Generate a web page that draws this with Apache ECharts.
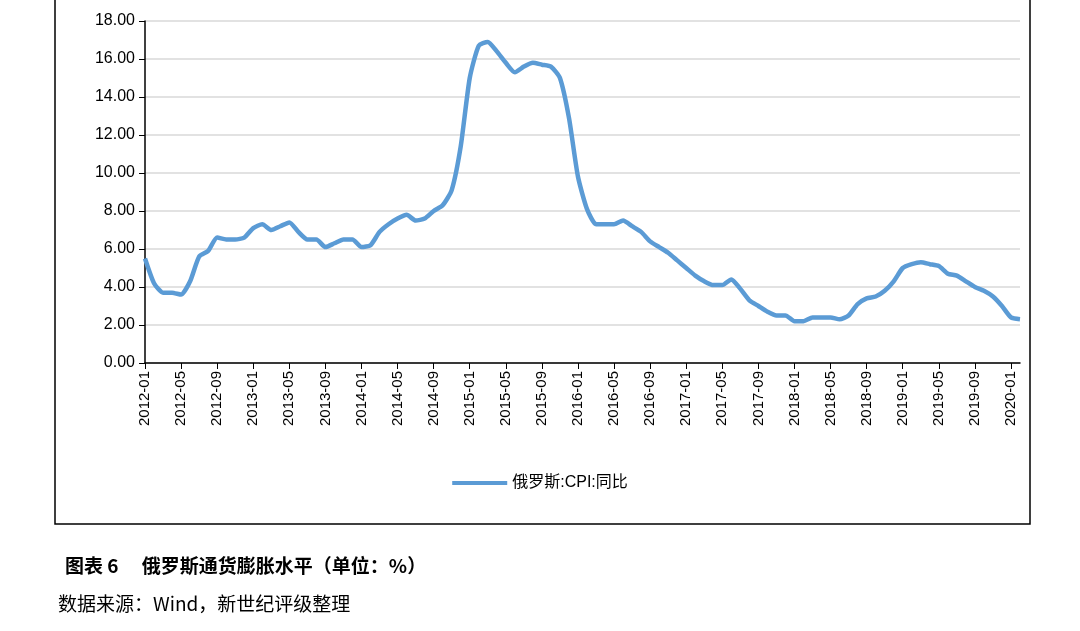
<!DOCTYPE html>
<html><head><meta charset="utf-8">
<script src="https://cdn.jsdelivr.net/npm/echarts@6/dist/echarts.min.js"></script>
<style>html,body{margin:0;padding:0;background:#fff}#c{width:1080px;height:631px}</style>
</head><body><div id="c"></div>
<script>
const seriesName = '俄罗斯:CPI:同比';
const cpiValues = [5.5,
 4.2,3.7,3.7,3.6,4.3,5.6,5.9,6.6,6.5,6.5,6.6,
 7.1,7.3,7.0,7.2,7.4,6.9,6.5,6.5,6.1,6.3,6.5,6.5,
 6.1,6.2,6.9,7.3,7.6,7.8,7.5,7.6,8.0,8.3,9.1,11.4,
 15.0,16.7,16.9,16.4,15.8,15.3,15.6,15.8,15.7,15.6,15.0,12.9,
 9.8,8.1,7.3,7.3,7.3,7.5,7.2,6.9,6.4,6.1,5.8,5.4,
 5.0,4.6,4.3,4.1,4.1,4.4,3.9,3.3,3.0,2.7,2.5,2.5,
 2.2,2.2,2.4,2.4,2.4,2.3,2.5,3.1,3.4,3.5,3.8,4.3,
 5.0,5.2,5.3,5.2,5.1,4.7,4.6,4.3,4.0,3.8,3.5,3.0,
 2.4,2.3];
const categories = [];
for (let y = 2012; y <= 2020; y++) for (let m = 1; m <= 12; m++) {
  if (categories.length < cpiValues.length) categories.push(y + '-' + String(m).padStart(2, '0'));
}
const chart = echarts.init(document.getElementById('c'));
const font = '"Liberation Sans", "Noto Sans CJK SC", sans-serif';
chart.setOption({
  animation: false,
  grid: {left: 145, right: 60, top: 21, bottom: 268},
  xAxis: {
    type: 'category', data: categories, boundaryGap: false,
    axisLine: {lineStyle: {color: '#000', width: 1.5}},
    axisTick: {interval: 3, length: 6, lineStyle: {color: '#000'}},
    axisLabel: {interval: 3, rotate: 90, color: '#000', fontSize: 15, fontFamily: font, margin: 8}
  },
  yAxis: {
    type: 'value', min: 0, max: 18, interval: 2,
    axisLine: {show: true, lineStyle: {color: '#000', width: 1.5}},
    axisTick: {show: true, length: 6, inside: false, lineStyle: {color: '#000'}},
    splitLine: {lineStyle: {color: '#d9d9d9', width: 1.5}},
    axisLabel: {formatter: v => v.toFixed(2), color: '#000', fontSize: 16, fontFamily: font, margin: 10}
  },
  legend: {
    bottom: 135, left: 'center', itemWidth: 55, itemHeight: 4, icon: 'rect',
    textStyle: {fontSize: 16, color: '#000', fontFamily: font},
    data: [seriesName]
  },
  series: [{
    name: seriesName, type: 'line', data: cpiValues, showSymbol: false, smooth: 0.2,
    lineStyle: {color: '#5b9bd5', width: 4.5}, itemStyle: {color: '#5b9bd5'}
  }],
  graphic: [
    {type: 'rect', shape: {x: 55, y: -2, width: 975, height: 526}, style: {fill: 'none', stroke: '#000', lineWidth: 1.5}},
    {type: 'text', left: 65, top: 556, style: {text: '图表 6　 俄罗斯通货膨胀水平（单位：%）', fontSize: 19, fontWeight: 'bold', fill: '#000', fontFamily: '"Noto Sans CJK SC", serif'}},
    {type: 'text', left: 58, top: 594, style: {text: '数据来源：Wind，新世纪评级整理', fontSize: 19, fill: '#000', fontFamily: '"Noto Sans CJK SC", serif'}}
  ]
});
</script></body></html>
